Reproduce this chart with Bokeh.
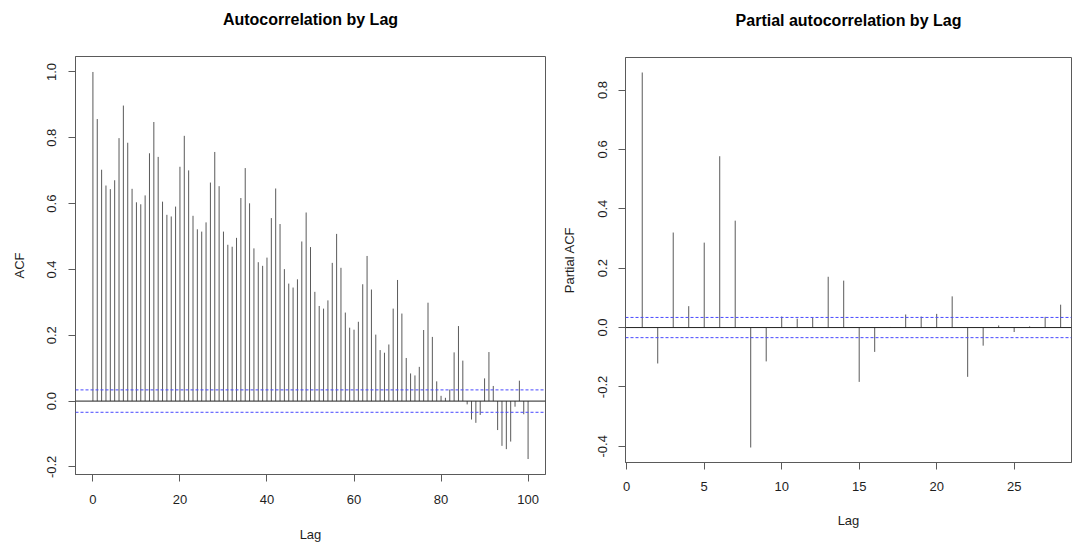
from bokeh.plotting import figure
from bokeh.layouts import row, column
from bokeh.models import Span, FixedTicker, Range1d
from bokeh.embed import file_html
from bokeh.resources import INLINE

# ---- data ----
acf_lags = list(range(0, 101))
acf_values = [1.0, 0.857, 0.703, 0.655, 0.644, 0.671, 0.799, 0.898, 0.785, 0.645,
              0.604, 0.598, 0.625, 0.753, 0.848, 0.742, 0.606, 0.566, 0.561, 0.591,
              0.712, 0.806, 0.701, 0.563, 0.522, 0.515, 0.543, 0.664, 0.757, 0.653,
              0.515, 0.475, 0.469, 0.496, 0.617, 0.708, 0.601, 0.464, 0.422, 0.411,
              0.436, 0.556, 0.646, 0.538, 0.401, 0.357, 0.345, 0.370, 0.485, 0.573,
              0.468, 0.332, 0.289, 0.281, 0.306, 0.420, 0.508, 0.405, 0.269, 0.223,
              0.217, 0.241, 0.355, 0.441, 0.339, 0.202, 0.155, 0.147, 0.172, 0.281,
              0.368, 0.266, 0.131, 0.084, 0.078, 0.104, 0.216, 0.299, 0.195, 0.060,
              0.016, 0.010, 0.035, 0.148, 0.228, 0.123, -0.010, -0.056, -0.066, -0.042,
              0.069, 0.149, 0.046, -0.088, -0.136, -0.146, -0.123, -0.017, 0.062, -0.040,
              -0.176]
pacf_lags = list(range(1, 29))
pacf_values = [0.859, -0.121, 0.320, 0.072, 0.286, 0.577, 0.360, -0.404, -0.114, 0.037,
               0.030, 0.034, 0.171, 0.158, -0.183, -0.082, 0.002, 0.044, 0.037, 0.046,
               0.105, -0.166, -0.061, 0.007, -0.015, 0.004, 0.036, 0.077]
conf_limit = 0.034

acf_xticks = [0, 20, 40, 60, 80, 100]
acf_yticks = [-0.2, 0.0, 0.2, 0.4, 0.6, 0.8, 1.0]
pacf_xticks = [0, 5, 10, 15, 20, 25]
pacf_yticks = [-0.4, -0.2, 0.0, 0.2, 0.4, 0.6, 0.8]

FONT = "Liberation Sans"
GRAY = "#5a5a5a"
TXT = "#1e1e1e"


def padded(lo, hi, frac=0.04):
    d = (hi - lo) * frac
    return lo - d, hi + d


def make_panel(title, ylabel, lags, vals, xticks, yticks, x_range, width, height,
               mb_left, mb_right, mb_top, mb_bottom, title_off, tick_off, lab_off,
               ytick_off, ylab_off):
    ylo, yhi = padded(min(min(vals), -conf_limit), max(max(vals), conf_limit))
    p = figure(width=width, height=height, output_backend="svg", toolbar_location=None,
               x_range=Range1d(*x_range), y_range=Range1d(ylo, yhi),
               min_border_left=mb_left, min_border_right=mb_right,
               min_border_top=mb_top, min_border_bottom=mb_bottom,
               background_fill_color="white", border_fill_color="white")
    p.grid.visible = False
    p.outline_line_color = GRAY
    p.outline_line_width = 1

    p.title.text = title + "\n "
    p.title.text_font = FONT
    p.title.text_font_size = "16px"
    p.title.text_font_style = "bold"
    p.title.text_color = "#000000"
    p.title.text_line_height = 1.2
    p.title.align = "center"
    p.title.standoff = title_off

    for ax in (p.xaxis[0], p.yaxis[0]):
        ax.axis_line_color = GRAY
        ax.major_tick_line_color = GRAY
        ax.major_tick_out = 7
        ax.major_tick_in = 0
        ax.minor_tick_line_color = None
        ax.major_label_text_font = FONT
        ax.major_label_text_font_size = "13px"
        ax.major_label_text_color = TXT
        ax.axis_label_text_font = FONT
        ax.axis_label_text_font_size = "13px"
        ax.axis_label_text_font_style = "normal"
        ax.axis_label_text_color = TXT

    p.xaxis.ticker = FixedTicker(ticks=xticks)
    p.yaxis.ticker = FixedTicker(ticks=yticks)
    p.yaxis.major_label_overrides = {t: f"{t:.1f}" for t in yticks}
    p.xaxis.major_label_standoff = tick_off
    p.yaxis.major_label_standoff = ytick_off
    p.yaxis.major_label_orientation = "vertical"
    p.xaxis.axis_label = "Lag"
    p.xaxis.axis_label_standoff = lab_off
    p.yaxis.axis_label = ylabel
    p.yaxis.axis_label_standoff = ylab_off

    p.segment(x0=lags, y0=[0] * len(lags), x1=lags, y1=vals, line_color=GRAY, line_width=1)

    p.add_layout(Span(location=0, dimension="width", line_color="#222222", line_width=1))
    for c in (conf_limit, -conf_limit):
        p.add_layout(Span(location=c, dimension="width", line_color="#4848ff",
                          line_width=1, line_dash="3 2"))
    return p


acf_xr = padded(min(acf_lags), max(acf_lags))
left = make_panel("Autocorrelation by Lag", "ACF", acf_lags, acf_values,
                  acf_xticks, acf_yticks, acf_xr,
                  555, 544, 75, 10, 55, 70, 17, 13, 20, 12, 18)

pacf_x0 = padded(min(pacf_lags), max(pacf_lags))[0]
right = make_panel("Partial autocorrelation by Lag", "Partial ACF", pacf_lags, pacf_values,
                   pacf_xticks, pacf_yticks, (pacf_x0, 28.7),
                   518, 544, 70, 2, 57, 82, 16, 12, 19, 11, 19)

layout = row(column(left), column(right))
open("out.html", "w").write(file_html(layout, INLINE))
